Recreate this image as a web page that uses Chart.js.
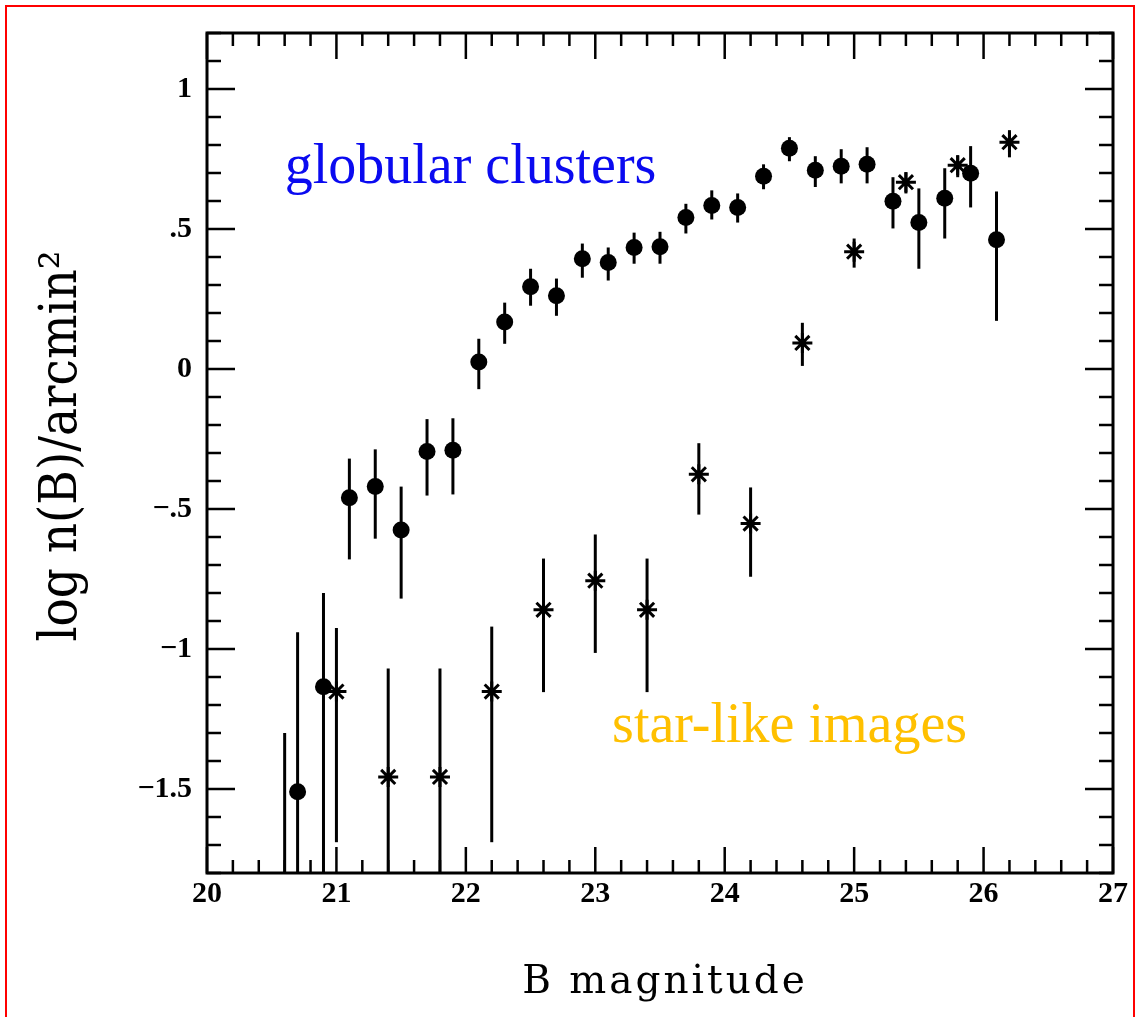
<!DOCTYPE html>
<html>
<head>
<meta charset="utf-8">
<title>log n(B) vs B magnitude</title>
<script src="https://cdn.jsdelivr.net/npm/chart.js@4.4.1/dist/chart.umd.min.js"></script>
<style>
    body { margin: 0; background: #fff; overflow: hidden; }
    #wrap { position: relative; width: 1135px; height: 1017px; }
    #marco {
        position: absolute; left: 5px; top: 5px; width: 1126px; height: 1040px;
        border: 2px solid #ff0000; border-bottom: none; pointer-events: none;
    }
    canvas { position: absolute; left: 0; top: 0; }
</style>
</head>
<body>
<div id="wrap">
    <canvas id="grafica" width="1135" height="1017"></canvas>
    <div id="marco"></div>
</div>
<script>
// globular clusters (puntos negros)
const gcMag  = [20.6, 20.7, 20.9, 21.1, 21.3, 21.5, 21.7, 21.9, 22.1, 22.3, 22.5, 22.7, 22.9, 23.1, 23.3,
                23.5, 23.7, 23.9, 24.1, 24.3, 24.5, 24.7, 24.9, 25.1, 25.3, 25.5, 25.7, 25.9, 26.1];
const gcLog  = [-1.95, -1.51, -1.135, -0.46, -0.42, -0.575, -0.295, -0.29, 0.025, 0.168, 0.294, 0.262, 0.394, 0.38, 0.434,
                0.437, 0.541, 0.584, 0.577, 0.688, 0.788, 0.71, 0.724, 0.731, 0.599, 0.523, 0.61, 0.699, 0.462];
const gcHigh = [-1.30, -0.94, -0.80, -0.32, -0.287, -0.42, -0.179, -0.176, 0.108, 0.237, 0.358, 0.323, 0.448, 0.434, 0.487,
                0.49, 0.59, 0.638, 0.627, 0.731, 0.828, 0.76, 0.785, 0.792, 0.685, 0.645, 0.717, 0.796, 0.634];
const gcLow  = [-2.2, -2.2, -2.2, -0.68, -0.606, -0.82, -0.452, -0.448, -0.072, 0.09, 0.226, 0.19, 0.326, 0.316, 0.376,
                0.376, 0.484, 0.534, 0.523, 0.642, 0.742, 0.65, 0.663, 0.663, 0.502, 0.358, 0.466, 0.577, 0.172];

// star-like images (asteriscos)
const slMag  = [21.0, 21.4, 21.8, 22.2, 22.6, 23.0, 23.4, 23.8, 24.2, 24.6, 25.0, 25.4, 25.8, 26.2];
const slLog  = [-1.152, -1.457, -1.457, -1.152, -0.86, -0.756, -0.86, -0.376, -0.552, 0.093, 0.419, 0.667, 0.728, 0.81];
const slHigh = [-0.925, -1.07, -1.07, -0.92, -0.677, -0.591, -0.677, -0.265, -0.423, 0.165, 0.466, 0.703, 0.763, 0.853];
const slLow  = [-1.69, -2.2, -2.2, -1.69, -1.154, -1.014, -1.154, -0.52, -0.742, 0.011, 0.362, 0.627, 0.685, 0.756];

// ejes
const xTicks = [20, 21, 22, 23, 24, 25, 26, 27];
const yTicks = [-1.5, -1, -0.5, 0, 0.5, 1];
const yTickLabels = ['\u22121.5', '\u22121', '\u2212.5', '0', '.5', '1'];

// etiquetas dentro del grafico (en coordenadas de datos)
const gcLabelPos = { x: 20.6, y: 0.663 };
const slLabelPos = { x: 23.13, y: -1.333 };

document.addEventListener('DOMContentLoaded', () => {

    function armarPuntos(mag, val, lo, hi) {
        return mag.map((m, i) => ({ x: m, y: val[i], yMin: lo[i], yMax: hi[i] }));
    }

    // barras de error, se dibujan antes que los puntos
    const barrasError = {
        id: 'barrasError',
        beforeDatasetsDraw(chart) {
            const ctx = chart.ctx;
            const area = chart.chartArea;
            const xs = chart.scales.x, ys = chart.scales.y;
            ctx.save();
            ctx.beginPath();
            ctx.rect(area.left, area.top, area.right - area.left, area.bottom - area.top);
            ctx.clip();
            ctx.strokeStyle = '#000';
            ctx.lineWidth = 3;
            chart.data.datasets.forEach(ds => {
                ds.data.forEach(p => {
                    const px = xs.getPixelForValue(p.x);
                    ctx.beginPath();
                    ctx.moveTo(px, ys.getPixelForValue(p.yMax));
                    ctx.lineTo(px, ys.getPixelForValue(p.yMin));
                    ctx.stroke();
                });
            });
            ctx.restore();
        }
    };

    // marco + rayitas hacia adentro en los 4 lados, titulos y textos de colores
    const marcoYTextos = {
        id: 'marcoYTextos',
        afterDraw(chart) {
            const ctx = chart.ctx;
            const a = chart.chartArea;
            const xs = chart.scales.x, ys = chart.scales.y;
            ctx.save();
            ctx.strokeStyle = '#000';
            ctx.lineWidth = 3;
            ctx.strokeRect(a.left, a.top, a.right - a.left, a.bottom - a.top);

            ctx.lineWidth = 2.5;
            // eje x: menores cada 0.2, mayores cada 1
            for (let k = 0; k <= 35; k++) {
                const v = 20 + k * 0.2;
                const px = xs.getPixelForValue(v);
                const len = (k % 5 === 0) ? 26 : 13;
                ctx.beginPath();
                ctx.moveTo(px, a.bottom); ctx.lineTo(px, a.bottom - len);
                ctx.moveTo(px, a.top); ctx.lineTo(px, a.top + len);
                ctx.stroke();
            }
            // eje y: menores cada 0.1, mayores cada 0.5
            for (let k = -18; k <= 12; k++) {
                const py = ys.getPixelForValue(k / 10);
                const len = (k % 5 === 0) ? 28 : 14;
                ctx.beginPath();
                ctx.moveTo(a.left, py); ctx.lineTo(a.left + len, py);
                ctx.moveTo(a.right, py); ctx.lineTo(a.right - len, py);
                ctx.stroke();
            }

            // titulo eje x
            ctx.fillStyle = '#000';
            ctx.font = '39px "DejaVu Serif", serif';
            ctx.textAlign = 'center';
            ctx.textBaseline = 'alphabetic';
            ctx.letterSpacing = '3px';
            ctx.fillText('B magnitude', (a.left + a.right) / 2 + 5, 993);

            // titulo eje y (un poco estirado, como en el original)
            ctx.save();
            ctx.translate(76, 446);
            ctx.rotate(-Math.PI / 2);
            ctx.scale(1, 1.1);
            ctx.letterSpacing = '0px';
            ctx.font = '47px "DejaVu Serif", serif';
            ctx.fillText('log n(B)/arcmin\u00b2', 0, 0);
            ctx.restore();

            // textos de colores
            ctx.letterSpacing = '0px';
            ctx.textAlign = 'left';
            ctx.font = '56px "Liberation Serif", serif';
            ctx.fillStyle = '#0a0af0';
            ctx.fillText('globular clusters', xs.getPixelForValue(gcLabelPos.x), ys.getPixelForValue(gcLabelPos.y));
            ctx.fillStyle = '#ffc000';
            ctx.fillText('star-like images', xs.getPixelForValue(slLabelPos.x), ys.getPixelForValue(slLabelPos.y));
            ctx.restore();
        }
    };

    const ctx = document.getElementById('grafica').getContext('2d');
    new Chart(ctx, {
        type: 'scatter',
        data: {
            datasets: [{
                label: 'globular clusters',
                data: armarPuntos(gcMag, gcLog, gcLow, gcHigh),
                pointStyle: 'circle',
                pointRadius: 8.5,
                pointBackgroundColor: '#000',
                pointBorderWidth: 0,
                pointHoverRadius: 8.5
            }, {
                label: 'star-like images',
                data: armarPuntos(slMag, slLog, slLow, slHigh),
                pointStyle: 'star',
                pointRadius: 10,
                pointBorderColor: '#000',
                pointBorderWidth: 3,
                pointHoverRadius: 10
            }]
        },
        options: {
            responsive: false,
            animation: false,
            devicePixelRatio: 1,
            layout: { padding: { left: 0, top: 33, right: 22, bottom: 0 } },
            plugins: {
                legend: { display: false },
                tooltip: { enabled: false }
            },
            scales: {
                x: {
                    type: 'linear',
                    min: 20,
                    max: 27,
                    afterBuildTicks: s => { s.ticks = xTicks.map(v => ({ value: v })); },
                    afterFit: s => { s.height = 144; },
                    grid: { display: false, drawTicks: false },
                    border: { display: false },
                    ticks: {
                        padding: 3,
                        color: '#000',
                        maxRotation: 0,
                        font: { family: '"Liberation Serif", serif', size: 30, weight: 'bold' }
                    }
                },
                y: {
                    type: 'linear',
                    min: -1.8,
                    max: 1.2,
                    afterBuildTicks: s => { s.ticks = yTicks.map(v => ({ value: v })); },
                    afterFit: s => { s.width = 207; },
                    grid: { display: false, drawTicks: false },
                    border: { display: false },
                    ticks: {
                        padding: 15,
                        color: '#000',
                        font: { family: '"Liberation Serif", serif', size: 30, weight: 'bold' },
                        callback: v => {
                            const i = yTicks.indexOf(v);
                            return i >= 0 ? yTickLabels[i] : '';
                        }
                    }
                }
            }
        },
        plugins: [barrasError, marcoYTextos]
    });
});
</script>
</body>
</html>
